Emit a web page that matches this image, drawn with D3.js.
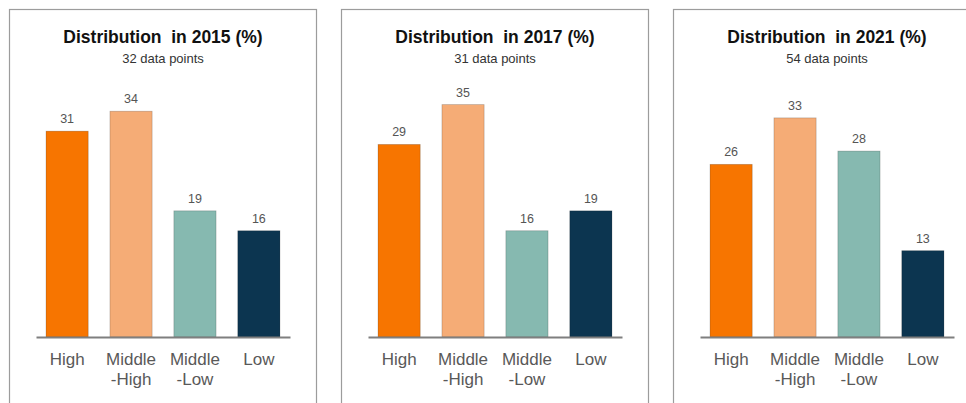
<!DOCTYPE html>
<html>
<head>
<meta charset="utf-8">
<script src="https://cdn.jsdelivr.net/npm/d3@7"></script>
<style>
  html, body { margin: 0; padding: 0; background: #fff; }
  svg { display: block; font-family: "Liberation Sans", Arial, sans-serif; }
</style>
</head>
<body>
<svg id="chart" width="966" height="403"></svg>
<script>
// Income-group shares per survey year
const categories = [["High"], ["Middle", "-High"], ["Middle", "-Low"], ["Low"]];
const categoryKeys = ["High", "Middle-High", "Middle-Low", "Low"];
const years = [2015, 2017, 2021];
const dataPointCounts = [32, 31, 54];
const values2015 = [31, 34, 19, 16];
const values2017 = [29, 35, 16, 19];
const values2021 = [26, 33, 28, 13];
const barColors = ["#F77500", "#F5AC76", "#86B9B0", "#0C3550"];

const panels = years.map((year, i) => ({
  year,
  count: dataPointCounts[i],
  values: [values2015, values2017, values2021][i]
}));

const svg = d3.select("#chart");

const panelWidth = 307;
const panelStep = 332;
const panelLeft = 9;
const panelTop = 9;

// Shared scales (coordinates inside one panel)
const x = d3.scaleBand()
  .domain(categoryKeys)
  .range([27, 281])
  .paddingInner(0.34)
  .paddingOuter(0.157);

const y = d3.scaleLinear()
  .domain([0, 35])
  .range([328, 328 - 35 * 6.64]);

const color = d3.scaleOrdinal().domain(categoryKeys).range(barColors);

const g = svg.selectAll("g.panel")
  .data(panels)
  .join("g")
  .attr("class", "panel")
  .attr("transform", (d, i) => `translate(${panelLeft + i * panelStep},${panelTop})`);

// Panel frame (runs past the bottom edge)
g.append("rect")
  .attr("x", 0.5).attr("y", 0.5)
  .attr("width", panelWidth).attr("height", 430)
  .attr("fill", "#fff")
  .attr("stroke", "#9c9c9c")
  .attr("stroke-width", 1.2);

// Title and subtitle
g.append("text")
  .attr("x", panelWidth / 2 + 0.5)
  .attr("y", 34)
  .attr("text-anchor", "middle")
  .attr("font-size", 17.5)
  .attr("font-weight", "bold")
  .attr("fill", "#111")
  .attr("xml:space", "preserve")
  .text(d => `Distribution  in ${d.year} (%)`);

g.append("text")
  .attr("x", panelWidth / 2 + 0.5)
  .attr("y", 54)
  .attr("text-anchor", "middle")
  .attr("font-size", 13)
  .attr("fill", "#333")
  .text(d => `${d.count} data points`);

// Bars
g.selectAll("rect.bar")
  .data(d => d.values.map((v, j) => ({ key: categoryKeys[j], value: v })))
  .join("rect")
  .attr("class", "bar")
  .attr("x", d => x(d.key))
  .attr("y", d => y(d.value))
  .attr("width", x.bandwidth())
  .attr("height", d => y(0) - y(d.value))
  .attr("fill", d => color(d.key))
  .attr("stroke", "rgba(0,0,0,0.22)")
  .attr("stroke-width", 0.8);

// Value labels
g.selectAll("text.value")
  .data(d => d.values.map((v, j) => ({ key: categoryKeys[j], value: v })))
  .join("text")
  .attr("class", "value")
  .attr("x", d => x(d.key) + x.bandwidth() / 2)
  .attr("y", d => y(d.value) - 8)
  .attr("text-anchor", "middle")
  .attr("font-size", 12.5)
  .attr("fill", "#555")
  .text(d => d.value);

// Baseline axis with category labels
g.each(function () {
  const axis = d3.select(this).append("g")
    .attr("transform", `translate(0,${y(0)})`)
    .call(d3.axisBottom(x).tickSize(0).tickFormat(""));
  axis.select(".domain")
    .attr("stroke", "#7f7f7f")
    .attr("stroke-width", 2);
  axis.selectAll(".tick").each(function (key, j) {
    const t = d3.select(this).append("text")
      .attr("text-anchor", "middle")
      .attr("font-size", 17)
      .attr("fill", "#595959");
    categories[j].forEach((line, k) => {
      t.append("tspan").attr("x", 0).attr("y", 28 + k * 20).text(line);
    });
  });
});
</script>
</body>
</html>
